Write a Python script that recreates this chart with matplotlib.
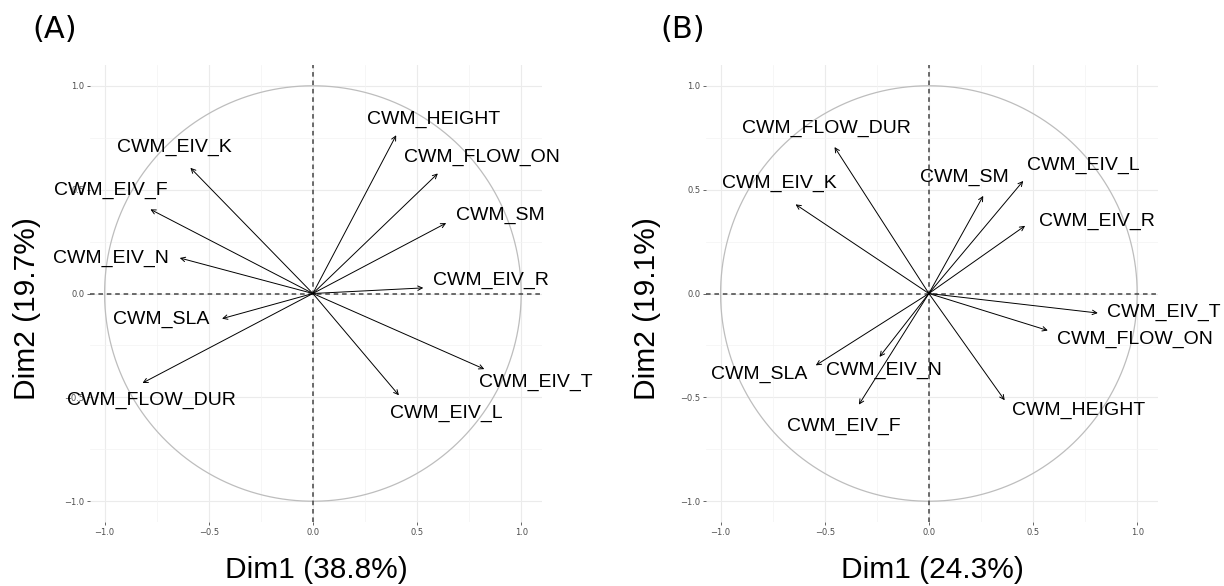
import numpy as np
import matplotlib
matplotlib.use("Agg")
import matplotlib.pyplot as plt

# variable coordinates on Dim1 / Dim2
vars_a = ["CWM_HEIGHT", "CWM_FLOW_ON", "CWM_SM", "CWM_EIV_R", "CWM_EIV_T", "CWM_EIV_L",
          "CWM_FLOW_DUR", "CWM_SLA", "CWM_EIV_N", "CWM_EIV_F", "CWM_EIV_K"]
dim1_a = [0.40, 0.60, 0.64, 0.53, 0.823, 0.413, -0.818, -0.436, -0.639, -0.78, -0.588]
dim2_a = [0.762, 0.578, 0.339, 0.027, -0.364, -0.49, -0.431, -0.121, 0.171, 0.405, 0.605]
# label anchors (repelled text positions)
lab_x_a = [0.579, 0.812, 0.898, 0.855, 1.071, 0.643, -0.774, -0.729, -0.968, -0.968, -0.667]
lab_y_a = [0.838, 0.654, 0.375, 0.063, -0.427, -0.577, -0.514, -0.124, 0.171, 0.497, 0.703]

vars_b = ["CWM_FLOW_DUR", "CWM_EIV_K", "CWM_SM", "CWM_EIV_L", "CWM_EIV_R", "CWM_EIV_T",
          "CWM_FLOW_ON", "CWM_HEIGHT", "CWM_EIV_F", "CWM_EIV_N", "CWM_SLA"]
dim1_b = [-0.453, -0.64, 0.261, 0.453, 0.462, 0.811, 0.571, 0.364, -0.336, -0.237, -0.543]
dim2_b = [0.705, 0.429, 0.470, 0.542, 0.326, -0.094, -0.178, -0.514, -0.535, -0.305, -0.346]
lab_x_b = [-0.49, -0.716, 0.171, 0.74, 0.809, 1.13, 0.988, 0.721, -0.409, -0.214, -0.813]
lab_y_b = [0.793, 0.528, 0.560, 0.618, 0.348, -0.09, -0.22, -0.562, -0.64, -0.369, -0.391]

titles = ["(A)", "(B)"]
xlabels = ["Dim1 (38.8%)", "Dim1 (24.3%)"]
ylabels = ["Dim2 (19.7%)", "Dim2 (19.1%)"]
ticks = [-1.0, -0.5, 0.0, 0.5, 1.0]
minor_ticks = [-0.75, -0.25, 0.25, 0.75]

sans = ["Liberation Sans", "DejaVu Sans"]

fig = plt.figure(figsize=(12.24, 5.86), dpi=100)

panels = [
    (vars_a, dim1_a, dim2_a, lab_x_a, lab_y_a),
    (vars_b, dim1_b, dim2_b, lab_x_b, lab_y_b),
]
lefts = [90 / 1224, 706 / 1224]
ylab_x = [-0.139, -0.131]

for i, (names, x, y, lx, ly) in enumerate(panels):
    ax = fig.add_axes([lefts[i], 64 / 586, 452 / 1224, 457 / 586])
    ax.set_xlim(-1.07, 1.10)
    ax.set_ylim(-1.10, 1.10)

    for t in ticks:
        ax.axvline(t, color="#ebebeb", lw=0.8, zorder=0)
        ax.axhline(t, color="#ebebeb", lw=0.8, zorder=0)
    for t in minor_ticks:
        ax.axvline(t, color="#f3f3f3", lw=0.5, zorder=0)
        ax.axhline(t, color="#f3f3f3", lw=0.5, zorder=0)

    theta = np.linspace(0, 2 * np.pi, 400)
    ax.plot(np.cos(theta), np.sin(theta), color="#bdbdbd", lw=0.9, zorder=1)
    ax.axhline(0, color="#444444", lw=1.1, ls=(0, (3, 2.5)), zorder=2)
    ax.axvline(0, color="#444444", lw=1.1, ls=(0, (3, 2.5)), zorder=2)

    for n, xi, yi, tx, ty in zip(names, x, y, lx, ly):
        ax.annotate("", xy=(xi, yi), xytext=(0, 0),
                    arrowprops=dict(arrowstyle="->", color="black", lw=0.7,
                                    shrinkA=0, shrinkB=0, mutation_scale=8),
                    zorder=3)
        ax.text(tx, ty, n, ha="center", va="center", fontsize=14,
                family=sans, clip_on=False, zorder=4)

    for s in ax.spines.values():
        s.set_visible(False)
    ax.set_xticks(ticks)
    ax.set_yticks(ticks)
    ax.set_xticklabels(["\u22121.0", "\u22120.5", "0.0", "0.5", "1.0"])
    ax.set_yticklabels(["\u22121.0", "\u22120.5", "0.0", "0.5", "1.0"])
    ax.tick_params(labelsize=6, colors="#4d4d4d", length=2, width=0.6, pad=2)

    ax.set_xlabel(xlabels[i], fontsize=21.5, family=sans, labelpad=14)
    ax.set_ylabel(ylabels[i], fontsize=21.5, family=sans)
    ax.yaxis.set_label_coords(ylab_x[i], 0.466)
    ax.yaxis.label.set_va("center")

fig.text(32 / 1224, 1 - 29 / 586, titles[0], fontsize=22, va="center", ha="left")
fig.text(660 / 1224, 1 - 29 / 586, titles[1], fontsize=22, va="center", ha="left")

fig.savefig("out.png", dpi=100)
